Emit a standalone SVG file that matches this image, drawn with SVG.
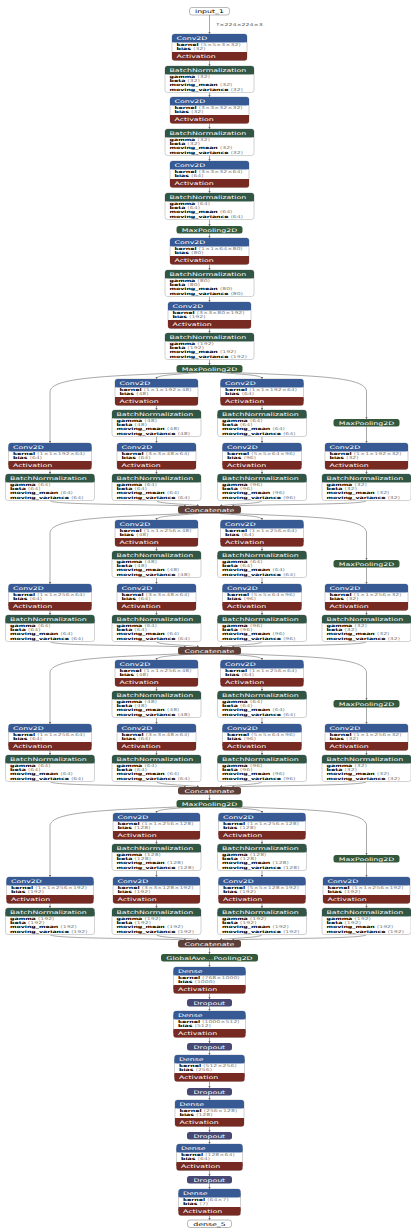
<svg xmlns="http://www.w3.org/2000/svg" xmlns:xlink="http://www.w3.org/1999/xlink" width="411" height="1230" viewBox="0 0 411 1230">
<style>
.bd{fill:#fff;stroke:#b4b4b4;stroke-width:.6}
.cv{fill:#375a94}
.ac{fill:#772a22}
.bn{fill:#325646}
.pl{fill:#34583a}
.dr{fill:#474974}
.ct{fill:#5c4038}
.io{fill:#fff;stroke:#8a8a8a;stroke-width:.6}
.H,.A,.C,.L{font-family:"DejaVu Sans",sans-serif;transform-box:fill-box;transform-origin:0 0;transform:scaleX(1.6)}
.H{font-size:4.9px;fill:#fff}
.A{font-size:3.9px;fill:#000}
.C{font-size:4.9px;fill:#fff;text-anchor:middle;transform-origin:50% 50%}
.K{fill:#000}
.L{font-size:3.9px;fill:#555}
.n{font-weight:bold}
.v{fill:#7a7a7a}
.e{fill:none;stroke:#6e6e6e;stroke-width:.6;marker-end:url(#ar)}
</style>
<defs>
<marker id="ar" viewBox="0 0 10 10" refX="9" refY="5" markerWidth="2.6" markerHeight="2.6" markerUnits="userSpaceOnUse" orient="auto"><path d="M0,0L10,5L0,10z" fill="#6e6e6e"/></marker>
<g id="bnS"><rect class="bd" width="89" height="26.5" rx="2.5"/><rect class="bn" width="89" height="8.3" rx="2.5"/><rect class="bn" y="4" width="89" height="4.3"/></g>
<g id="c75"><rect class="bd" width="75" height="26.5" rx="2.5"/><rect class="cv" width="75" height="8.3" rx="2.5"/><rect class="cv" y="4" width="75" height="4.3"/><rect class="ac" y="18" width="75" height="8.5" rx="2.5"/><rect class="ac" y="18" width="75" height="4"/></g>
<g id="c79"><rect class="bd" width="79" height="26.5" rx="2.5"/><rect class="cv" width="79" height="8.3" rx="2.5"/><rect class="cv" y="4" width="79" height="4.3"/><rect class="ac" y="18" width="79" height="8.5" rx="2.5"/><rect class="ac" y="18" width="79" height="4"/></g>
<g id="c83"><rect class="bd" width="83" height="26.5" rx="2.5"/><rect class="cv" width="83" height="8.3" rx="2.5"/><rect class="cv" y="4" width="83" height="4.3"/><rect class="ac" y="18" width="83" height="8.5" rx="2.5"/><rect class="ac" y="18" width="83" height="4"/></g>
<g id="c87"><rect class="bd" width="87" height="26.5" rx="2.5"/><rect class="cv" width="87" height="8.3" rx="2.5"/><rect class="cv" y="4" width="87" height="4.3"/><rect class="ac" y="18" width="87" height="8.5" rx="2.5"/><rect class="ac" y="18" width="87" height="4"/></g>
<g id="c72"><rect class="bd" width="72" height="26.5" rx="2.5"/><rect class="cv" width="72" height="8.3" rx="2.5"/><rect class="cv" y="4" width="72" height="4.3"/><rect class="ac" y="18" width="72" height="8.5" rx="2.5"/><rect class="ac" y="18" width="72" height="4"/></g>
<g id="c70"><rect class="bd" width="70" height="26.5" rx="2.5"/><rect class="cv" width="70" height="8.3" rx="2.5"/><rect class="cv" y="4" width="70" height="4.3"/><rect class="ac" y="18" width="70" height="8.5" rx="2.5"/><rect class="ac" y="18" width="70" height="4"/></g>
<g id="c69"><rect class="bd" width="69" height="26.5" rx="2.5"/><rect class="cv" width="69" height="8.3" rx="2.5"/><rect class="cv" y="4" width="69" height="4.3"/><rect class="ac" y="18" width="69" height="8.5" rx="2.5"/><rect class="ac" y="18" width="69" height="4"/></g>
<g id="c66"><rect class="bd" width="66" height="26.5" rx="2.5"/><rect class="cv" width="66" height="8.3" rx="2.5"/><rect class="cv" y="4" width="66" height="4.3"/><rect class="ac" y="18" width="66" height="8.5" rx="2.5"/><rect class="ac" y="18" width="66" height="4"/></g>
<g id="c62"><rect class="bd" width="62" height="26.5" rx="2.5"/><rect class="cv" width="62" height="8.3" rx="2.5"/><rect class="cv" y="4" width="62" height="4.3"/><rect class="ac" y="18" width="62" height="8.5" rx="2.5"/><rect class="ac" y="18" width="62" height="4"/></g>
<rect id="mpS" class="pl" width="66" height="7.5" rx="2.5"/>
<rect id="ctS" class="ct" width="63" height="7.5" rx="2.5"/>
<rect id="drS" class="dr" width="45" height="7.5" rx="2.5"/>
</defs>
<rect width="411" height="1230" fill="#fff"/>

<g id="connectors">
<path class="e" d="M209.5,15V34"/>
<text class="L" x="216" y="26">?×224×224×3</text>
<path class="e" d="M209.5,60.5V66"/>
<path class="e" d="M209.5,92.5V97"/>
<path class="e" d="M209.5,123.5V129"/>
<path class="e" d="M209.5,155.5V161"/>
<path class="e" d="M209.5,187.5V193"/>
<path class="e" d="M209.5,219.5V226"/>
<path class="e" d="M209.5,233.5V238"/>
<path class="e" d="M209.5,264.5V270"/>
<path class="e" d="M209.5,296.5V302"/>
<path class="e" d="M209.5,328.5V333"/>
<path class="e" d="M209.5,359.5V365"/>
<g id="edges_block1">
<path class="e" d="M188,372.5C110,376 50,377 50,392V443"/>
<path class="e" d="M199,372.5C170,375 156.5,375 156.5,379"/>
<path class="e" d="M220,372.5C249,375 262,375 262,379"/>
<path class="e" d="M231,372.5C320,376 366.5,377 366.5,392V419"/>
<path class="e" d="M156.5,405.5V410"/><path class="e" d="M156.5,436.5V443"/><path class="e" d="M156.5,469.5V474"/>
<path class="e" d="M262,405.5V410"/><path class="e" d="M262,436.5V443"/><path class="e" d="M262,469.5V474"/>
<path class="e" d="M50,469.5V474"/>
<path class="e" d="M366.5,426.5V443"/><path class="e" d="M366.5,469.5V474"/>
<path class="e" d="M50,500.5C50,505 150,504 186,506"/>
<path class="e" d="M156.5,500.5C156.5,504 192,504 199,506"/>
<path class="e" d="M262,500.5C262,504 227,504 220,506"/>
<path class="e" d="M366.5,500.5C366.5,505 270,504 232,506"/>
</g>
<g id="edges_block2" transform="translate(0,141)">
<path class="e" d="M188,372.5C110,376 50,377 50,392V443"/>
<path class="e" d="M199,372.5C170,375 156.5,375 156.5,379"/>
<path class="e" d="M220,372.5C249,375 262,375 262,379"/>
<path class="e" d="M231,372.5C320,376 366.5,377 366.5,392V419"/>
<path class="e" d="M156.5,405.5V410"/><path class="e" d="M156.5,436.5V443"/><path class="e" d="M156.5,469.5V474"/>
<path class="e" d="M262,405.5V410"/><path class="e" d="M262,436.5V443"/><path class="e" d="M262,469.5V474"/>
<path class="e" d="M50,469.5V474"/>
<path class="e" d="M366.5,426.5V443"/><path class="e" d="M366.5,469.5V474"/>
<path class="e" d="M50,500.5C50,505 150,504 186,506"/>
<path class="e" d="M156.5,500.5C156.5,504 192,504 199,506"/>
<path class="e" d="M262,500.5C262,504 227,504 220,506"/>
<path class="e" d="M366.5,500.5C366.5,505 270,504 232,506"/>
</g>
<g id="edges_block3" transform="translate(0,281)">
<path class="e" d="M188,372.5C110,376 50,377 50,392V443"/>
<path class="e" d="M199,372.5C170,375 156.5,375 156.5,379"/>
<path class="e" d="M220,372.5C249,375 262,375 262,379"/>
<path class="e" d="M231,372.5C320,376 366.5,377 366.5,392V419"/>
<path class="e" d="M156.5,405.5V410"/><path class="e" d="M156.5,436.5V443"/><path class="e" d="M156.5,469.5V474"/>
<path class="e" d="M262,405.5V410"/><path class="e" d="M262,436.5V443"/><path class="e" d="M262,469.5V474"/>
<path class="e" d="M50,469.5V474"/>
<path class="e" d="M366.5,426.5V443"/><path class="e" d="M366.5,469.5V474"/>
<path class="e" d="M50,500.5C50,505 150,504 186,506"/>
<path class="e" d="M156.5,500.5C156.5,504 192,504 199,506"/>
<path class="e" d="M262,500.5C262,504 227,504 220,506"/>
<path class="e" d="M366.5,500.5C366.5,505 270,504 232,506"/>
</g>
<path class="e" d="M209.5,794.5V800"/>
<g id="edges_block4" transform="translate(0,434)">
<path class="e" d="M188,372.5C110,376 50,377 50,392V443"/>
<path class="e" d="M199,372.5C170,375 156.5,375 156.5,379"/>
<path class="e" d="M220,372.5C249,375 262,375 262,379"/>
<path class="e" d="M231,372.5C320,376 366.5,377 366.5,392V421"/>
<path class="e" d="M156.5,405.5V410"/><path class="e" d="M156.5,436.5V443"/><path class="e" d="M156.5,469.5V474"/>
<path class="e" d="M262,405.5V410"/><path class="e" d="M262,436.5V443"/><path class="e" d="M262,469.5V474"/>
<path class="e" d="M50,469.5V474"/>
<path class="e" d="M366.5,428.5V443"/><path class="e" d="M366.5,469.5V474"/>
<path class="e" d="M50,500.5C50,505 150,504 186,506"/>
<path class="e" d="M156.5,500.5C156.5,504 192,504 199,506"/>
<path class="e" d="M262,500.5C262,504 227,504 220,506"/>
<path class="e" d="M366.5,500.5C366.5,505 270,504 232,506"/>
</g>
<path class="e" d="M209.5,947.5V954"/>
<path class="e" d="M209.5,961.5V967"/>
<path class="e" d="M209.5,993.5V999"/>
<path class="e" d="M209.5,1006.5V1011"/>
<path class="e" d="M209.5,1037.5V1043"/>
<path class="e" d="M209.5,1050.5V1055"/>
<path class="e" d="M209.5,1081.5V1088"/>
<path class="e" d="M209.5,1095.5V1100"/>
<path class="e" d="M209.5,1126.5V1132"/>
<path class="e" d="M209.5,1139.5V1144"/>
<path class="e" d="M209.5,1170.5V1176"/>
<path class="e" d="M209.5,1183.5V1189"/>
<path class="e" d="M209.5,1215.5V1220"/>
</g>

<g id="input_1" transform="translate(189.5,7.5)"><rect class="io" width="40" height="7.5" rx="2.5"/><text class="C K" x="20" y="5.6">input_1</text></g>

<g id="conv2d_1" transform="translate(172,34)"><use href="#c75"/><text class="H" x="4.5" y="6">Conv2D</text><text class="A" x="4.5" y="11.8"><tspan class="n">kernel</tspan><tspan class="v"> ⟨5×5×3×32⟩</tspan></text><text class="A" x="4.5" y="16"><tspan class="n">bias</tspan><tspan class="v"> ⟨32⟩</tspan></text><text class="H" x="4.5" y="24.3">Activation</text></g>
<g id="bn_1" transform="translate(165,66)"><use href="#bnS"/><text class="H" x="4.5" y="6">BatchNormalization</text><text class="A" x="4.5" y="11.8"><tspan class="n">gamma</tspan><tspan class="v"> ⟨32⟩</tspan></text><text class="A" x="4.5" y="16.1"><tspan class="n">beta</tspan><tspan class="v"> ⟨32⟩</tspan></text><text class="A" x="4.5" y="20.4"><tspan class="n">moving_mean</tspan><tspan class="v"> ⟨32⟩</tspan></text><text class="A" x="4.5" y="24.7"><tspan class="n">moving_variance</tspan><tspan class="v"> ⟨32⟩</tspan></text></g>
<g id="conv2d_2" transform="translate(170,97)"><use href="#c79"/><text class="H" x="4.5" y="6">Conv2D</text><text class="A" x="4.5" y="11.8"><tspan class="n">kernel</tspan><tspan class="v"> ⟨3×3×32×32⟩</tspan></text><text class="A" x="4.5" y="16"><tspan class="n">bias</tspan><tspan class="v"> ⟨32⟩</tspan></text><text class="H" x="4.5" y="24.3">Activation</text></g>
<g id="bn_2" transform="translate(165,129)"><use href="#bnS"/><text class="H" x="4.5" y="6">BatchNormalization</text><text class="A" x="4.5" y="11.8"><tspan class="n">gamma</tspan><tspan class="v"> ⟨32⟩</tspan></text><text class="A" x="4.5" y="16.1"><tspan class="n">beta</tspan><tspan class="v"> ⟨32⟩</tspan></text><text class="A" x="4.5" y="20.4"><tspan class="n">moving_mean</tspan><tspan class="v"> ⟨32⟩</tspan></text><text class="A" x="4.5" y="24.7"><tspan class="n">moving_variance</tspan><tspan class="v"> ⟨32⟩</tspan></text></g>
<g id="conv2d_3" transform="translate(170,161)"><use href="#c79"/><text class="H" x="4.5" y="6">Conv2D</text><text class="A" x="4.5" y="11.8"><tspan class="n">kernel</tspan><tspan class="v"> ⟨3×3×32×64⟩</tspan></text><text class="A" x="4.5" y="16"><tspan class="n">bias</tspan><tspan class="v"> ⟨64⟩</tspan></text><text class="H" x="4.5" y="24.3">Activation</text></g>
<g id="bn_3" transform="translate(165,193)"><use href="#bnS"/><text class="H" x="4.5" y="6">BatchNormalization</text><text class="A" x="4.5" y="11.8"><tspan class="n">gamma</tspan><tspan class="v"> ⟨64⟩</tspan></text><text class="A" x="4.5" y="16.1"><tspan class="n">beta</tspan><tspan class="v"> ⟨64⟩</tspan></text><text class="A" x="4.5" y="20.4"><tspan class="n">moving_mean</tspan><tspan class="v"> ⟨64⟩</tspan></text><text class="A" x="4.5" y="24.7"><tspan class="n">moving_variance</tspan><tspan class="v"> ⟨64⟩</tspan></text></g>
<g id="pool_1" transform="translate(176.5,226)"><use href="#mpS"/><text class="C" x="33" y="5.6">MaxPooling2D</text></g>
<g id="conv2d_4" transform="translate(170,238)"><use href="#c79"/><text class="H" x="4.5" y="6">Conv2D</text><text class="A" x="4.5" y="11.8"><tspan class="n">kernel</tspan><tspan class="v"> ⟨1×1×64×80⟩</tspan></text><text class="A" x="4.5" y="16"><tspan class="n">bias</tspan><tspan class="v"> ⟨80⟩</tspan></text><text class="H" x="4.5" y="24.3">Activation</text></g>
<g id="bn_4" transform="translate(165,270)"><use href="#bnS"/><text class="H" x="4.5" y="6">BatchNormalization</text><text class="A" x="4.5" y="11.8"><tspan class="n">gamma</tspan><tspan class="v"> ⟨80⟩</tspan></text><text class="A" x="4.5" y="16.1"><tspan class="n">beta</tspan><tspan class="v"> ⟨80⟩</tspan></text><text class="A" x="4.5" y="20.4"><tspan class="n">moving_mean</tspan><tspan class="v"> ⟨80⟩</tspan></text><text class="A" x="4.5" y="24.7"><tspan class="n">moving_variance</tspan><tspan class="v"> ⟨80⟩</tspan></text></g>
<g id="conv2d_5" transform="translate(168,302)"><use href="#c83"/><text class="H" x="4.5" y="6">Conv2D</text><text class="A" x="4.5" y="11.8"><tspan class="n">kernel</tspan><tspan class="v"> ⟨3×3×80×192⟩</tspan></text><text class="A" x="4.5" y="16"><tspan class="n">bias</tspan><tspan class="v"> ⟨192⟩</tspan></text><text class="H" x="4.5" y="24.3">Activation</text></g>
<g id="bn_5" transform="translate(165,333)"><use href="#bnS"/><text class="H" x="4.5" y="6">BatchNormalization</text><text class="A" x="4.5" y="11.8"><tspan class="n">gamma</tspan><tspan class="v"> ⟨192⟩</tspan></text><text class="A" x="4.5" y="16.1"><tspan class="n">beta</tspan><tspan class="v"> ⟨192⟩</tspan></text><text class="A" x="4.5" y="20.4"><tspan class="n">moving_mean</tspan><tspan class="v"> ⟨192⟩</tspan></text><text class="A" x="4.5" y="24.7"><tspan class="n">moving_variance</tspan><tspan class="v"> ⟨192⟩</tspan></text></g>
<g id="pool_2" transform="translate(176.5,365)"><use href="#mpS"/><text class="C" x="33" y="5.6">MaxPooling2D</text></g>

<g id="block1">
<g id="b1_conv_a" transform="translate(115,379)"><use href="#c83"/><text class="H" x="4.5" y="6">Conv2D</text><text class="A" x="4.5" y="11.8"><tspan class="n">kernel</tspan><tspan class="v"> ⟨1×1×192×48⟩</tspan></text><text class="A" x="4.5" y="16"><tspan class="n">bias</tspan><tspan class="v"> ⟨48⟩</tspan></text><text class="H" x="4.5" y="24.3">Activation</text></g>
<g id="b1_bn_a" transform="translate(112,410)"><use href="#bnS"/><text class="H" x="4.5" y="6">BatchNormalization</text><text class="A" x="4.5" y="11.8"><tspan class="n">gamma</tspan><tspan class="v"> ⟨48⟩</tspan></text><text class="A" x="4.5" y="16.1"><tspan class="n">beta</tspan><tspan class="v"> ⟨48⟩</tspan></text><text class="A" x="4.5" y="20.4"><tspan class="n">moving_mean</tspan><tspan class="v"> ⟨48⟩</tspan></text><text class="A" x="4.5" y="24.7"><tspan class="n">moving_variance</tspan><tspan class="v"> ⟨48⟩</tspan></text></g>
<g id="b1_conv_b" transform="translate(117,443)"><use href="#c79"/><text class="H" x="4.5" y="6">Conv2D</text><text class="A" x="4.5" y="11.8"><tspan class="n">kernel</tspan><tspan class="v"> ⟨3×3×48×64⟩</tspan></text><text class="A" x="4.5" y="16"><tspan class="n">bias</tspan><tspan class="v"> ⟨64⟩</tspan></text><text class="H" x="4.5" y="24.3">Activation</text></g>
<g id="b1_bn_b" transform="translate(112,474)"><use href="#bnS"/><text class="H" x="4.5" y="6">BatchNormalization</text><text class="A" x="4.5" y="11.8"><tspan class="n">gamma</tspan><tspan class="v"> ⟨64⟩</tspan></text><text class="A" x="4.5" y="16.1"><tspan class="n">beta</tspan><tspan class="v"> ⟨64⟩</tspan></text><text class="A" x="4.5" y="20.4"><tspan class="n">moving_mean</tspan><tspan class="v"> ⟨64⟩</tspan></text><text class="A" x="4.5" y="24.7"><tspan class="n">moving_variance</tspan><tspan class="v"> ⟨64⟩</tspan></text></g>
<g id="b1_conv_c" transform="translate(220.5,379)"><use href="#c83"/><text class="H" x="4.5" y="6">Conv2D</text><text class="A" x="4.5" y="11.8"><tspan class="n">kernel</tspan><tspan class="v"> ⟨1×1×192×64⟩</tspan></text><text class="A" x="4.5" y="16"><tspan class="n">bias</tspan><tspan class="v"> ⟨64⟩</tspan></text><text class="H" x="4.5" y="24.3">Activation</text></g>
<g id="b1_bn_c" transform="translate(217.5,410)"><use href="#bnS"/><text class="H" x="4.5" y="6">BatchNormalization</text><text class="A" x="4.5" y="11.8"><tspan class="n">gamma</tspan><tspan class="v"> ⟨64⟩</tspan></text><text class="A" x="4.5" y="16.1"><tspan class="n">beta</tspan><tspan class="v"> ⟨64⟩</tspan></text><text class="A" x="4.5" y="20.4"><tspan class="n">moving_mean</tspan><tspan class="v"> ⟨64⟩</tspan></text><text class="A" x="4.5" y="24.7"><tspan class="n">moving_variance</tspan><tspan class="v"> ⟨64⟩</tspan></text></g>
<g id="b1_conv_d" transform="translate(222.5,443)"><use href="#c79"/><text class="H" x="4.5" y="6">Conv2D</text><text class="A" x="4.5" y="11.8"><tspan class="n">kernel</tspan><tspan class="v"> ⟨5×5×64×96⟩</tspan></text><text class="A" x="4.5" y="16"><tspan class="n">bias</tspan><tspan class="v"> ⟨96⟩</tspan></text><text class="H" x="4.5" y="24.3">Activation</text></g>
<g id="b1_bn_d" transform="translate(217.5,474)"><use href="#bnS"/><text class="H" x="4.5" y="6">BatchNormalization</text><text class="A" x="4.5" y="11.8"><tspan class="n">gamma</tspan><tspan class="v"> ⟨96⟩</tspan></text><text class="A" x="4.5" y="16.1"><tspan class="n">beta</tspan><tspan class="v"> ⟨96⟩</tspan></text><text class="A" x="4.5" y="20.4"><tspan class="n">moving_mean</tspan><tspan class="v"> ⟨96⟩</tspan></text><text class="A" x="4.5" y="24.7"><tspan class="n">moving_variance</tspan><tspan class="v"> ⟨96⟩</tspan></text></g>
<g id="b1_conv_e" transform="translate(8.5,443)"><use href="#c83"/><text class="H" x="4.5" y="6">Conv2D</text><text class="A" x="4.5" y="11.8"><tspan class="n">kernel</tspan><tspan class="v"> ⟨1×1×192×64⟩</tspan></text><text class="A" x="4.5" y="16"><tspan class="n">bias</tspan><tspan class="v"> ⟨64⟩</tspan></text><text class="H" x="4.5" y="24.3">Activation</text></g>
<g id="b1_bn_e" transform="translate(5.5,474)"><use href="#bnS"/><text class="H" x="4.5" y="6">BatchNormalization</text><text class="A" x="4.5" y="11.8"><tspan class="n">gamma</tspan><tspan class="v"> ⟨64⟩</tspan></text><text class="A" x="4.5" y="16.1"><tspan class="n">beta</tspan><tspan class="v"> ⟨64⟩</tspan></text><text class="A" x="4.5" y="20.4"><tspan class="n">moving_mean</tspan><tspan class="v"> ⟨64⟩</tspan></text><text class="A" x="4.5" y="24.7"><tspan class="n">moving_variance</tspan><tspan class="v"> ⟨64⟩</tspan></text></g>
<g id="b1_pool" transform="translate(333.5,419)"><use href="#mpS"/><text class="C" x="33" y="5.6">MaxPooling2D</text></g>
<g id="b1_conv_f" transform="translate(325,443)"><use href="#c83"/><text class="H" x="4.5" y="6">Conv2D</text><text class="A" x="4.5" y="11.8"><tspan class="n">kernel</tspan><tspan class="v"> ⟨1×1×192×32⟩</tspan></text><text class="A" x="4.5" y="16"><tspan class="n">bias</tspan><tspan class="v"> ⟨32⟩</tspan></text><text class="H" x="4.5" y="24.3">Activation</text></g>
<g id="b1_bn_f" transform="translate(322,474)"><use href="#bnS"/><text class="H" x="4.5" y="6">BatchNormalization</text><text class="A" x="4.5" y="11.8"><tspan class="n">gamma</tspan><tspan class="v"> ⟨32⟩</tspan></text><text class="A" x="4.5" y="16.1"><tspan class="n">beta</tspan><tspan class="v"> ⟨32⟩</tspan></text><text class="A" x="4.5" y="20.4"><tspan class="n">moving_mean</tspan><tspan class="v"> ⟨32⟩</tspan></text><text class="A" x="4.5" y="24.7"><tspan class="n">moving_variance</tspan><tspan class="v"> ⟨32⟩</tspan></text></g>
<g id="b1_concat" transform="translate(178,506)"><use href="#ctS"/><text class="C" x="31.5" y="5.6">Concatenate</text></g>
</g>

<g id="block2" transform="translate(0,141)">
<g id="b2_conv_a" transform="translate(115,379)"><use href="#c83"/><text class="H" x="4.5" y="6">Conv2D</text><text class="A" x="4.5" y="11.8"><tspan class="n">kernel</tspan><tspan class="v"> ⟨1×1×256×48⟩</tspan></text><text class="A" x="4.5" y="16"><tspan class="n">bias</tspan><tspan class="v"> ⟨48⟩</tspan></text><text class="H" x="4.5" y="24.3">Activation</text></g>
<g id="b2_bn_a" transform="translate(112,410)"><use href="#bnS"/><text class="H" x="4.5" y="6">BatchNormalization</text><text class="A" x="4.5" y="11.8"><tspan class="n">gamma</tspan><tspan class="v"> ⟨48⟩</tspan></text><text class="A" x="4.5" y="16.1"><tspan class="n">beta</tspan><tspan class="v"> ⟨48⟩</tspan></text><text class="A" x="4.5" y="20.4"><tspan class="n">moving_mean</tspan><tspan class="v"> ⟨48⟩</tspan></text><text class="A" x="4.5" y="24.7"><tspan class="n">moving_variance</tspan><tspan class="v"> ⟨48⟩</tspan></text></g>
<g id="b2_conv_b" transform="translate(117,443)"><use href="#c79"/><text class="H" x="4.5" y="6">Conv2D</text><text class="A" x="4.5" y="11.8"><tspan class="n">kernel</tspan><tspan class="v"> ⟨3×3×48×64⟩</tspan></text><text class="A" x="4.5" y="16"><tspan class="n">bias</tspan><tspan class="v"> ⟨64⟩</tspan></text><text class="H" x="4.5" y="24.3">Activation</text></g>
<g id="b2_bn_b" transform="translate(112,474)"><use href="#bnS"/><text class="H" x="4.5" y="6">BatchNormalization</text><text class="A" x="4.5" y="11.8"><tspan class="n">gamma</tspan><tspan class="v"> ⟨64⟩</tspan></text><text class="A" x="4.5" y="16.1"><tspan class="n">beta</tspan><tspan class="v"> ⟨64⟩</tspan></text><text class="A" x="4.5" y="20.4"><tspan class="n">moving_mean</tspan><tspan class="v"> ⟨64⟩</tspan></text><text class="A" x="4.5" y="24.7"><tspan class="n">moving_variance</tspan><tspan class="v"> ⟨64⟩</tspan></text></g>
<g id="b2_conv_c" transform="translate(220.5,379)"><use href="#c83"/><text class="H" x="4.5" y="6">Conv2D</text><text class="A" x="4.5" y="11.8"><tspan class="n">kernel</tspan><tspan class="v"> ⟨1×1×256×64⟩</tspan></text><text class="A" x="4.5" y="16"><tspan class="n">bias</tspan><tspan class="v"> ⟨64⟩</tspan></text><text class="H" x="4.5" y="24.3">Activation</text></g>
<g id="b2_bn_c" transform="translate(217.5,410)"><use href="#bnS"/><text class="H" x="4.5" y="6">BatchNormalization</text><text class="A" x="4.5" y="11.8"><tspan class="n">gamma</tspan><tspan class="v"> ⟨64⟩</tspan></text><text class="A" x="4.5" y="16.1"><tspan class="n">beta</tspan><tspan class="v"> ⟨64⟩</tspan></text><text class="A" x="4.5" y="20.4"><tspan class="n">moving_mean</tspan><tspan class="v"> ⟨64⟩</tspan></text><text class="A" x="4.5" y="24.7"><tspan class="n">moving_variance</tspan><tspan class="v"> ⟨64⟩</tspan></text></g>
<g id="b2_conv_d" transform="translate(222.5,443)"><use href="#c79"/><text class="H" x="4.5" y="6">Conv2D</text><text class="A" x="4.5" y="11.8"><tspan class="n">kernel</tspan><tspan class="v"> ⟨5×5×64×96⟩</tspan></text><text class="A" x="4.5" y="16"><tspan class="n">bias</tspan><tspan class="v"> ⟨96⟩</tspan></text><text class="H" x="4.5" y="24.3">Activation</text></g>
<g id="b2_bn_d" transform="translate(217.5,474)"><use href="#bnS"/><text class="H" x="4.5" y="6">BatchNormalization</text><text class="A" x="4.5" y="11.8"><tspan class="n">gamma</tspan><tspan class="v"> ⟨96⟩</tspan></text><text class="A" x="4.5" y="16.1"><tspan class="n">beta</tspan><tspan class="v"> ⟨96⟩</tspan></text><text class="A" x="4.5" y="20.4"><tspan class="n">moving_mean</tspan><tspan class="v"> ⟨96⟩</tspan></text><text class="A" x="4.5" y="24.7"><tspan class="n">moving_variance</tspan><tspan class="v"> ⟨96⟩</tspan></text></g>
<g id="b2_conv_e" transform="translate(8.5,443)"><use href="#c83"/><text class="H" x="4.5" y="6">Conv2D</text><text class="A" x="4.5" y="11.8"><tspan class="n">kernel</tspan><tspan class="v"> ⟨1×1×256×64⟩</tspan></text><text class="A" x="4.5" y="16"><tspan class="n">bias</tspan><tspan class="v"> ⟨64⟩</tspan></text><text class="H" x="4.5" y="24.3">Activation</text></g>
<g id="b2_bn_e" transform="translate(5.5,474)"><use href="#bnS"/><text class="H" x="4.5" y="6">BatchNormalization</text><text class="A" x="4.5" y="11.8"><tspan class="n">gamma</tspan><tspan class="v"> ⟨64⟩</tspan></text><text class="A" x="4.5" y="16.1"><tspan class="n">beta</tspan><tspan class="v"> ⟨64⟩</tspan></text><text class="A" x="4.5" y="20.4"><tspan class="n">moving_mean</tspan><tspan class="v"> ⟨64⟩</tspan></text><text class="A" x="4.5" y="24.7"><tspan class="n">moving_variance</tspan><tspan class="v"> ⟨64⟩</tspan></text></g>
<g id="b2_pool" transform="translate(333.5,419)"><use href="#mpS"/><text class="C" x="33" y="5.6">MaxPooling2D</text></g>
<g id="b2_conv_f" transform="translate(325,443)"><use href="#c83"/><text class="H" x="4.5" y="6">Conv2D</text><text class="A" x="4.5" y="11.8"><tspan class="n">kernel</tspan><tspan class="v"> ⟨1×1×256×32⟩</tspan></text><text class="A" x="4.5" y="16"><tspan class="n">bias</tspan><tspan class="v"> ⟨32⟩</tspan></text><text class="H" x="4.5" y="24.3">Activation</text></g>
<g id="b2_bn_f" transform="translate(322,474)"><use href="#bnS"/><text class="H" x="4.5" y="6">BatchNormalization</text><text class="A" x="4.5" y="11.8"><tspan class="n">gamma</tspan><tspan class="v"> ⟨32⟩</tspan></text><text class="A" x="4.5" y="16.1"><tspan class="n">beta</tspan><tspan class="v"> ⟨32⟩</tspan></text><text class="A" x="4.5" y="20.4"><tspan class="n">moving_mean</tspan><tspan class="v"> ⟨32⟩</tspan></text><text class="A" x="4.5" y="24.7"><tspan class="n">moving_variance</tspan><tspan class="v"> ⟨32⟩</tspan></text></g>
<g id="b2_concat" transform="translate(178,506)"><use href="#ctS"/><text class="C" x="31.5" y="5.6">Concatenate</text></g>
</g>

<g id="block3" transform="translate(0,281)">
<g id="b3_conv_a" transform="translate(115,379)"><use href="#c83"/><text class="H" x="4.5" y="6">Conv2D</text><text class="A" x="4.5" y="11.8"><tspan class="n">kernel</tspan><tspan class="v"> ⟨1×1×256×48⟩</tspan></text><text class="A" x="4.5" y="16"><tspan class="n">bias</tspan><tspan class="v"> ⟨48⟩</tspan></text><text class="H" x="4.5" y="24.3">Activation</text></g>
<g id="b3_bn_a" transform="translate(112,410)"><use href="#bnS"/><text class="H" x="4.5" y="6">BatchNormalization</text><text class="A" x="4.5" y="11.8"><tspan class="n">gamma</tspan><tspan class="v"> ⟨48⟩</tspan></text><text class="A" x="4.5" y="16.1"><tspan class="n">beta</tspan><tspan class="v"> ⟨48⟩</tspan></text><text class="A" x="4.5" y="20.4"><tspan class="n">moving_mean</tspan><tspan class="v"> ⟨48⟩</tspan></text><text class="A" x="4.5" y="24.7"><tspan class="n">moving_variance</tspan><tspan class="v"> ⟨48⟩</tspan></text></g>
<g id="b3_conv_b" transform="translate(117,443)"><use href="#c79"/><text class="H" x="4.5" y="6">Conv2D</text><text class="A" x="4.5" y="11.8"><tspan class="n">kernel</tspan><tspan class="v"> ⟨3×3×48×64⟩</tspan></text><text class="A" x="4.5" y="16"><tspan class="n">bias</tspan><tspan class="v"> ⟨64⟩</tspan></text><text class="H" x="4.5" y="24.3">Activation</text></g>
<g id="b3_bn_b" transform="translate(112,474)"><use href="#bnS"/><text class="H" x="4.5" y="6">BatchNormalization</text><text class="A" x="4.5" y="11.8"><tspan class="n">gamma</tspan><tspan class="v"> ⟨64⟩</tspan></text><text class="A" x="4.5" y="16.1"><tspan class="n">beta</tspan><tspan class="v"> ⟨64⟩</tspan></text><text class="A" x="4.5" y="20.4"><tspan class="n">moving_mean</tspan><tspan class="v"> ⟨64⟩</tspan></text><text class="A" x="4.5" y="24.7"><tspan class="n">moving_variance</tspan><tspan class="v"> ⟨64⟩</tspan></text></g>
<g id="b3_conv_c" transform="translate(220.5,379)"><use href="#c83"/><text class="H" x="4.5" y="6">Conv2D</text><text class="A" x="4.5" y="11.8"><tspan class="n">kernel</tspan><tspan class="v"> ⟨1×1×256×64⟩</tspan></text><text class="A" x="4.5" y="16"><tspan class="n">bias</tspan><tspan class="v"> ⟨64⟩</tspan></text><text class="H" x="4.5" y="24.3">Activation</text></g>
<g id="b3_bn_c" transform="translate(217.5,410)"><use href="#bnS"/><text class="H" x="4.5" y="6">BatchNormalization</text><text class="A" x="4.5" y="11.8"><tspan class="n">gamma</tspan><tspan class="v"> ⟨64⟩</tspan></text><text class="A" x="4.5" y="16.1"><tspan class="n">beta</tspan><tspan class="v"> ⟨64⟩</tspan></text><text class="A" x="4.5" y="20.4"><tspan class="n">moving_mean</tspan><tspan class="v"> ⟨64⟩</tspan></text><text class="A" x="4.5" y="24.7"><tspan class="n">moving_variance</tspan><tspan class="v"> ⟨64⟩</tspan></text></g>
<g id="b3_conv_d" transform="translate(222.5,443)"><use href="#c79"/><text class="H" x="4.5" y="6">Conv2D</text><text class="A" x="4.5" y="11.8"><tspan class="n">kernel</tspan><tspan class="v"> ⟨5×5×64×96⟩</tspan></text><text class="A" x="4.5" y="16"><tspan class="n">bias</tspan><tspan class="v"> ⟨96⟩</tspan></text><text class="H" x="4.5" y="24.3">Activation</text></g>
<g id="b3_bn_d" transform="translate(217.5,474)"><use href="#bnS"/><text class="H" x="4.5" y="6">BatchNormalization</text><text class="A" x="4.5" y="11.8"><tspan class="n">gamma</tspan><tspan class="v"> ⟨96⟩</tspan></text><text class="A" x="4.5" y="16.1"><tspan class="n">beta</tspan><tspan class="v"> ⟨96⟩</tspan></text><text class="A" x="4.5" y="20.4"><tspan class="n">moving_mean</tspan><tspan class="v"> ⟨96⟩</tspan></text><text class="A" x="4.5" y="24.7"><tspan class="n">moving_variance</tspan><tspan class="v"> ⟨96⟩</tspan></text></g>
<g id="b3_conv_e" transform="translate(8.5,443)"><use href="#c83"/><text class="H" x="4.5" y="6">Conv2D</text><text class="A" x="4.5" y="11.8"><tspan class="n">kernel</tspan><tspan class="v"> ⟨1×1×256×64⟩</tspan></text><text class="A" x="4.5" y="16"><tspan class="n">bias</tspan><tspan class="v"> ⟨64⟩</tspan></text><text class="H" x="4.5" y="24.3">Activation</text></g>
<g id="b3_bn_e" transform="translate(5.5,474)"><use href="#bnS"/><text class="H" x="4.5" y="6">BatchNormalization</text><text class="A" x="4.5" y="11.8"><tspan class="n">gamma</tspan><tspan class="v"> ⟨64⟩</tspan></text><text class="A" x="4.5" y="16.1"><tspan class="n">beta</tspan><tspan class="v"> ⟨64⟩</tspan></text><text class="A" x="4.5" y="20.4"><tspan class="n">moving_mean</tspan><tspan class="v"> ⟨64⟩</tspan></text><text class="A" x="4.5" y="24.7"><tspan class="n">moving_variance</tspan><tspan class="v"> ⟨64⟩</tspan></text></g>
<g id="b3_pool" transform="translate(333.5,419)"><use href="#mpS"/><text class="C" x="33" y="5.6">MaxPooling2D</text></g>
<g id="b3_conv_f" transform="translate(325,443)"><use href="#c83"/><text class="H" x="4.5" y="6">Conv2D</text><text class="A" x="4.5" y="11.8"><tspan class="n">kernel</tspan><tspan class="v"> ⟨1×1×256×32⟩</tspan></text><text class="A" x="4.5" y="16"><tspan class="n">bias</tspan><tspan class="v"> ⟨32⟩</tspan></text><text class="H" x="4.5" y="24.3">Activation</text></g>
<g id="b3_bn_f" transform="translate(322,474)"><use href="#bnS"/><text class="H" x="4.5" y="6">BatchNormalization</text><text class="A" x="4.5" y="11.8"><tspan class="n">gamma</tspan><tspan class="v"> ⟨32⟩</tspan></text><text class="A" x="4.5" y="16.1"><tspan class="n">beta</tspan><tspan class="v"> ⟨32⟩</tspan></text><text class="A" x="4.5" y="20.4"><tspan class="n">moving_mean</tspan><tspan class="v"> ⟨32⟩</tspan></text><text class="A" x="4.5" y="24.7"><tspan class="n">moving_variance</tspan><tspan class="v"> ⟨32⟩</tspan></text></g>
<g id="b3_concat" transform="translate(178,506)"><use href="#ctS"/><text class="C" x="31.5" y="5.6">Concatenate</text></g>
</g>

<g id="pool_3" transform="translate(176.5,800)"><use href="#mpS"/><text class="C" x="33" y="5.6">MaxPooling2D</text></g>

<g id="block4" transform="translate(0,434)">
<g id="b4_conv_a" transform="translate(113,379)"><use href="#c87"/><text class="H" x="4.5" y="6">Conv2D</text><text class="A" x="4.5" y="11.8"><tspan class="n">kernel</tspan><tspan class="v"> ⟨1×1×256×128⟩</tspan></text><text class="A" x="4.5" y="16"><tspan class="n">bias</tspan><tspan class="v"> ⟨128⟩</tspan></text><text class="H" x="4.5" y="24.3">Activation</text></g>
<g id="b4_bn_a" transform="translate(112,410)"><use href="#bnS"/><text class="H" x="4.5" y="6">BatchNormalization</text><text class="A" x="4.5" y="11.8"><tspan class="n">gamma</tspan><tspan class="v"> ⟨128⟩</tspan></text><text class="A" x="4.5" y="16.1"><tspan class="n">beta</tspan><tspan class="v"> ⟨128⟩</tspan></text><text class="A" x="4.5" y="20.4"><tspan class="n">moving_mean</tspan><tspan class="v"> ⟨128⟩</tspan></text><text class="A" x="4.5" y="24.7"><tspan class="n">moving_variance</tspan><tspan class="v"> ⟨128⟩</tspan></text></g>
<g id="b4_conv_b" transform="translate(113,443)"><use href="#c87"/><text class="H" x="4.5" y="6">Conv2D</text><text class="A" x="4.5" y="11.8"><tspan class="n">kernel</tspan><tspan class="v"> ⟨3×3×128×192⟩</tspan></text><text class="A" x="4.5" y="16"><tspan class="n">bias</tspan><tspan class="v"> ⟨192⟩</tspan></text><text class="H" x="4.5" y="24.3">Activation</text></g>
<g id="b4_bn_b" transform="translate(112,474)"><use href="#bnS"/><text class="H" x="4.5" y="6">BatchNormalization</text><text class="A" x="4.5" y="11.8"><tspan class="n">gamma</tspan><tspan class="v"> ⟨192⟩</tspan></text><text class="A" x="4.5" y="16.1"><tspan class="n">beta</tspan><tspan class="v"> ⟨192⟩</tspan></text><text class="A" x="4.5" y="20.4"><tspan class="n">moving_mean</tspan><tspan class="v"> ⟨192⟩</tspan></text><text class="A" x="4.5" y="24.7"><tspan class="n">moving_variance</tspan><tspan class="v"> ⟨192⟩</tspan></text></g>
<g id="b4_conv_c" transform="translate(218.5,379)"><use href="#c87"/><text class="H" x="4.5" y="6">Conv2D</text><text class="A" x="4.5" y="11.8"><tspan class="n">kernel</tspan><tspan class="v"> ⟨1×1×256×128⟩</tspan></text><text class="A" x="4.5" y="16"><tspan class="n">bias</tspan><tspan class="v"> ⟨128⟩</tspan></text><text class="H" x="4.5" y="24.3">Activation</text></g>
<g id="b4_bn_c" transform="translate(217.5,410)"><use href="#bnS"/><text class="H" x="4.5" y="6">BatchNormalization</text><text class="A" x="4.5" y="11.8"><tspan class="n">gamma</tspan><tspan class="v"> ⟨128⟩</tspan></text><text class="A" x="4.5" y="16.1"><tspan class="n">beta</tspan><tspan class="v"> ⟨128⟩</tspan></text><text class="A" x="4.5" y="20.4"><tspan class="n">moving_mean</tspan><tspan class="v"> ⟨128⟩</tspan></text><text class="A" x="4.5" y="24.7"><tspan class="n">moving_variance</tspan><tspan class="v"> ⟨128⟩</tspan></text></g>
<g id="b4_conv_d" transform="translate(218.5,443)"><use href="#c87"/><text class="H" x="4.5" y="6">Conv2D</text><text class="A" x="4.5" y="11.8"><tspan class="n">kernel</tspan><tspan class="v"> ⟨5×5×128×192⟩</tspan></text><text class="A" x="4.5" y="16"><tspan class="n">bias</tspan><tspan class="v"> ⟨192⟩</tspan></text><text class="H" x="4.5" y="24.3">Activation</text></g>
<g id="b4_bn_d" transform="translate(217.5,474)"><use href="#bnS"/><text class="H" x="4.5" y="6">BatchNormalization</text><text class="A" x="4.5" y="11.8"><tspan class="n">gamma</tspan><tspan class="v"> ⟨192⟩</tspan></text><text class="A" x="4.5" y="16.1"><tspan class="n">beta</tspan><tspan class="v"> ⟨192⟩</tspan></text><text class="A" x="4.5" y="20.4"><tspan class="n">moving_mean</tspan><tspan class="v"> ⟨192⟩</tspan></text><text class="A" x="4.5" y="24.7"><tspan class="n">moving_variance</tspan><tspan class="v"> ⟨192⟩</tspan></text></g>
<g id="b4_conv_e" transform="translate(6.5,443)"><use href="#c87"/><text class="H" x="4.5" y="6">Conv2D</text><text class="A" x="4.5" y="11.8"><tspan class="n">kernel</tspan><tspan class="v"> ⟨1×1×256×192⟩</tspan></text><text class="A" x="4.5" y="16"><tspan class="n">bias</tspan><tspan class="v"> ⟨192⟩</tspan></text><text class="H" x="4.5" y="24.3">Activation</text></g>
<g id="b4_bn_e" transform="translate(5.5,474)"><use href="#bnS"/><text class="H" x="4.5" y="6">BatchNormalization</text><text class="A" x="4.5" y="11.8"><tspan class="n">gamma</tspan><tspan class="v"> ⟨192⟩</tspan></text><text class="A" x="4.5" y="16.1"><tspan class="n">beta</tspan><tspan class="v"> ⟨192⟩</tspan></text><text class="A" x="4.5" y="20.4"><tspan class="n">moving_mean</tspan><tspan class="v"> ⟨192⟩</tspan></text><text class="A" x="4.5" y="24.7"><tspan class="n">moving_variance</tspan><tspan class="v"> ⟨192⟩</tspan></text></g>
<g id="b4_pool" transform="translate(333.5,421)"><use href="#mpS"/><text class="C" x="33" y="5.6">MaxPooling2D</text></g>
<g id="b4_conv_f" transform="translate(323,443)"><use href="#c87"/><text class="H" x="4.5" y="6">Conv2D</text><text class="A" x="4.5" y="11.8"><tspan class="n">kernel</tspan><tspan class="v"> ⟨1×1×256×192⟩</tspan></text><text class="A" x="4.5" y="16"><tspan class="n">bias</tspan><tspan class="v"> ⟨192⟩</tspan></text><text class="H" x="4.5" y="24.3">Activation</text></g>
<g id="b4_bn_f" transform="translate(322,474)"><use href="#bnS"/><text class="H" x="4.5" y="6">BatchNormalization</text><text class="A" x="4.5" y="11.8"><tspan class="n">gamma</tspan><tspan class="v"> ⟨192⟩</tspan></text><text class="A" x="4.5" y="16.1"><tspan class="n">beta</tspan><tspan class="v"> ⟨192⟩</tspan></text><text class="A" x="4.5" y="20.4"><tspan class="n">moving_mean</tspan><tspan class="v"> ⟨192⟩</tspan></text><text class="A" x="4.5" y="24.7"><tspan class="n">moving_variance</tspan><tspan class="v"> ⟨192⟩</tspan></text></g>
<g id="b4_concat" transform="translate(178,506)"><use href="#ctS"/><text class="C" x="31.5" y="5.6">Concatenate</text></g>
</g>

<g id="global_avg_pool" transform="translate(161,954)"><rect class="pl" width="97" height="7.5" rx="2.5"/><text class="C" x="48.5" y="5.6">GlobalAve…Pooling2D</text></g>

<g id="dense_0" transform="translate(173.5,967)"><use href="#c72"/><text class="H" x="4.5" y="6">Dense</text><text class="A" x="4.5" y="11.8"><tspan class="n">kernel</tspan><tspan class="v"> ⟨768×1000⟩</tspan></text><text class="A" x="4.5" y="16"><tspan class="n">bias</tspan><tspan class="v"> ⟨1000⟩</tspan></text><text class="H" x="4.5" y="24.3">Activation</text></g>
<g id="dropout_1" transform="translate(187,999)"><use href="#drS"/><text class="C" x="22.5" y="5.6">Dropout</text></g>
<g id="dense_1" transform="translate(173.5,1011)"><use href="#c72"/><text class="H" x="4.5" y="6">Dense</text><text class="A" x="4.5" y="11.8"><tspan class="n">kernel</tspan><tspan class="v"> ⟨1000×512⟩</tspan></text><text class="A" x="4.5" y="16"><tspan class="n">bias</tspan><tspan class="v"> ⟨512⟩</tspan></text><text class="H" x="4.5" y="24.3">Activation</text></g>
<g id="dropout_2" transform="translate(187,1043)"><use href="#drS"/><text class="C" x="22.5" y="5.6">Dropout</text></g>
<g id="dense_2" transform="translate(174.5,1055)"><use href="#c70"/><text class="H" x="4.5" y="6">Dense</text><text class="A" x="4.5" y="11.8"><tspan class="n">kernel</tspan><tspan class="v"> ⟨512×256⟩</tspan></text><text class="A" x="4.5" y="16"><tspan class="n">bias</tspan><tspan class="v"> ⟨256⟩</tspan></text><text class="H" x="4.5" y="24.3">Activation</text></g>
<g id="dropout_3" transform="translate(187,1088)"><use href="#drS"/><text class="C" x="22.5" y="5.6">Dropout</text></g>
<g id="dense_3" transform="translate(175,1100)"><use href="#c69"/><text class="H" x="4.5" y="6">Dense</text><text class="A" x="4.5" y="11.8"><tspan class="n">kernel</tspan><tspan class="v"> ⟨256×128⟩</tspan></text><text class="A" x="4.5" y="16"><tspan class="n">bias</tspan><tspan class="v"> ⟨128⟩</tspan></text><text class="H" x="4.5" y="24.3">Activation</text></g>
<g id="dropout_4" transform="translate(187,1132)"><use href="#drS"/><text class="C" x="22.5" y="5.6">Dropout</text></g>
<g id="dense_4" transform="translate(176.5,1144)"><use href="#c66"/><text class="H" x="4.5" y="6">Dense</text><text class="A" x="4.5" y="11.8"><tspan class="n">kernel</tspan><tspan class="v"> ⟨128×64⟩</tspan></text><text class="A" x="4.5" y="16"><tspan class="n">bias</tspan><tspan class="v"> ⟨64⟩</tspan></text><text class="H" x="4.5" y="24.3">Activation</text></g>
<g id="dropout_5" transform="translate(187,1176)"><use href="#drS"/><text class="C" x="22.5" y="5.6">Dropout</text></g>
<g id="dense_5_layer" transform="translate(178.5,1189)"><use href="#c62"/><text class="H" x="4.5" y="6">Dense</text><text class="A" x="4.5" y="11.8"><tspan class="n">kernel</tspan><tspan class="v"> ⟨64×7⟩</tspan></text><text class="A" x="4.5" y="16"><tspan class="n">bias</tspan><tspan class="v"> ⟨7⟩</tspan></text><text class="H" x="4.5" y="24.3">Activation</text></g>
<g id="output_dense_5" transform="translate(187.5,1220)"><rect class="io" width="44" height="7.5" rx="2.5"/><text class="C K" x="22" y="5.6">dense_5</text></g>
</svg>
